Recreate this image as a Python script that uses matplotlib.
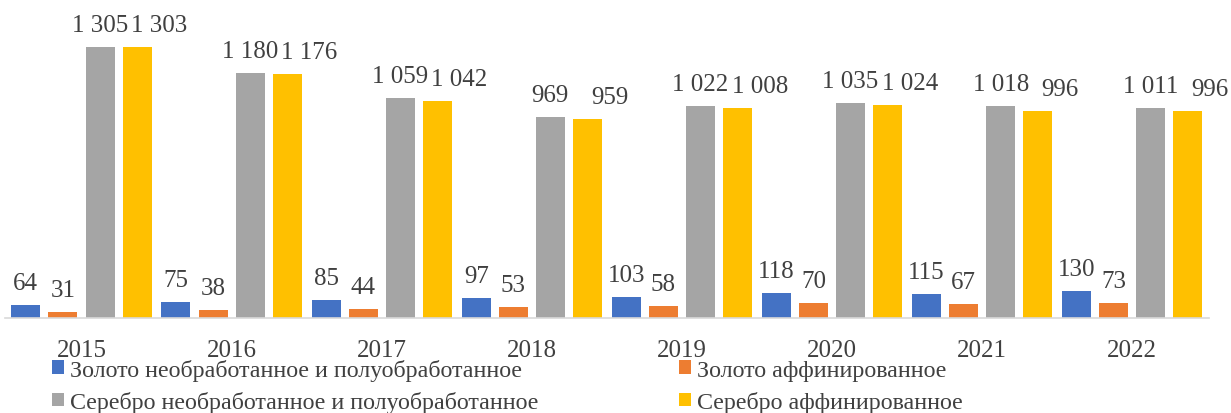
import matplotlib.pyplot as plt
import numpy as np

years = ["2015", "2016", "2017", "2018", "2019", "2020", "2021", "2022"]
gold_raw = [64, 75, 85, 97, 103, 118, 115, 130]
gold_ref = [31, 38, 44, 53, 58, 70, 67, 73]
silver_raw = [1305, 1180, 1059, 969, 1022, 1035, 1018, 1011]
silver_ref = [1303, 1176, 1042, 959, 1008, 1024, 996, 996]
names = ["Золото необработанное и полуобработанное", "Золото аффинированное",
         "Серебро необработанное и полуобработанное", "Серебро аффинированное"]
colors = ["#4472C4", "#ED7D31", "#A5A5A5", "#FFC000"]

plt.rcParams['font.family'] = ['Liberation Serif', 'DejaVu Serif']
fig = plt.figure(figsize=(12.31, 4.14), dpi=100)
ax = fig.add_axes([0.004, 0.2295, 0.978, 0.703])

x = np.arange(len(years))
step = 0.247
width = 0.193
series = [gold_raw, gold_ref, silver_raw, silver_ref]
# excel pushed the yellow labels to the right so they don't collide
xshift = [0, 0, 0, 16]
bars = []
for i, vals in enumerate(series):
    pos = x + (i - 1.5) * step
    bars.append(ax.bar(pos, vals, width, color=colors[i], label=names[i]))
    for p, v in zip(pos, vals):
        s = f"{v:,}".replace(",", " ")
        ax.annotate(s, (p, v), xytext=(xshift[i], 11.5), textcoords='offset points',
                    ha='center', va='baseline', fontsize=18, color='#404040')

ax.set_xlim(-0.51, 7.51)
ax.set_ylim(0, 1400)
ax.set_xticks(x)
ax.set_xticklabels(years, fontsize=18, color='#404040')
ax.tick_params(axis='x', length=0, pad=15)
ax.set_yticks([])
for s in ['top', 'right', 'left']:
    ax.spines[s].set_visible(False)
ax.spines['bottom'].set_color('#d9d9d9')
ax.spines['bottom'].set_linewidth(1.2)

order = [0, 2, 1, 3]
fig.legend([bars[k] for k in order], [names[k] for k in order], ncol=2,
           loc='lower left', bbox_to_anchor=(0.025, -0.052),
           frameon=False, fontsize=17.3, labelcolor='#404040', handlelength=0.5,
           handleheight=0.5, handletextpad=0.25, columnspacing=5.85, labelspacing=0.42)

fig.savefig("out.png", dpi=100)
